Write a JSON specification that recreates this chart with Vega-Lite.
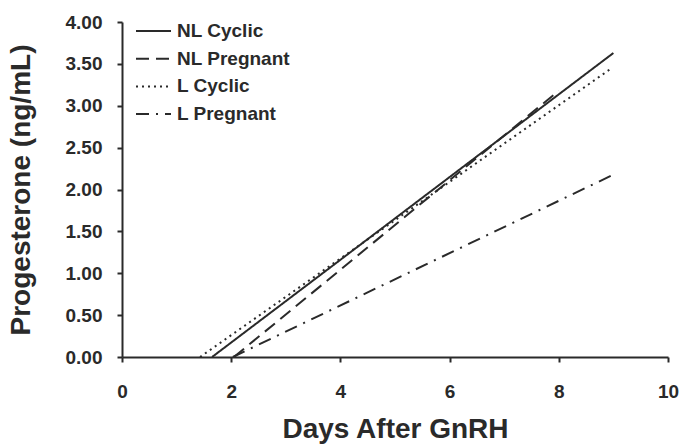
{
  "$schema": "https://vega.github.io/schema/vega-lite/v6.json",
  "width": 546,
  "height": 335,
  "autosize": {"type": "none"},
  "padding": {"left": 122, "top": 22, "right": 15, "bottom": 87},
  "background": "white",
  "config": {
    "view": {"stroke": null},
    "font": "Liberation Sans",
    "axis": {"grid": false, "domainColor": "#2a2a2a", "tickColor": "#2a2a2a", "domainWidth": 2, "tickWidth": 2, "labelColor": "#2a2a2a", "titleColor": "#2a2a2a", "labelFont": "Liberation Sans", "titleFont": "Liberation Sans", "labelFontWeight": "bold", "titleFontWeight": "bold"}
  },
  "data": {
    "values": [
      {"series": "NL Cyclic", "day": 1.65, "p4": 0},
      {"series": "NL Cyclic", "day": 9.0, "p4": 3.63},
      {"series": "NL Pregnant", "day": 2.05, "p4": 0},
      {"series": "NL Pregnant", "day": 8.0, "p4": 3.18},
      {"series": "L Cyclic", "day": 1.43, "p4": 0},
      {"series": "L Cyclic", "day": 8.97, "p4": 3.45},
      {"series": "L Pregnant", "day": 2.03, "p4": 0},
      {"series": "L Pregnant", "day": 8.96, "p4": 2.165}
    ]
  },
  "mark": {"type": "line", "color": "#2a2a2a", "strokeWidth": 2},
  "encoding": {
    "x": {"field": "day", "type": "quantitative", "scale": {"domain": [0, 10], "nice": false, "zero": true},
      "axis": {"values": [0, 2, 4, 6, 8, 10], "title": "Days After GnRH", "titleFontSize": 28, "titlePadding": 14, "labelFontSize": 19, "labelPadding": 20, "tickSize": 5, "labelFlush": false}},
    "y": {"field": "p4", "type": "quantitative", "scale": {"domain": [0, 4], "nice": false},
      "axis": {"values": [0, 0.5, 1, 1.5, 2, 2.5, 3, 3.5, 4], "format": ".2f", "title": "Progesterone (ng/mL)", "titleFontSize": 28, "titlePadding": 30, "labelFontSize": 19, "labelPadding": 15, "tickSize": 5}},
    "strokeDash": {"field": "series", "type": "nominal",
      "scale": {"domain": ["NL Cyclic", "NL Pregnant", "L Cyclic", "L Pregnant"], "range": [[1, 0], [13, 7], [2, 4], [13, 7, 2, 7]]},
      "legend": {"title": null, "orient": "none", "legendX": 20.5, "legendY": -2, "symbolType": "M-1.75,0H1.75", "symbolSize": 400, "symbolStrokeColor": "#2a2a2a", "symbolStrokeWidth": 2, "labelFontSize": 19, "labelFontWeight": "bold", "labelColor": "#2a2a2a", "rowPadding": 6.7, "labelOffset": 12.5}}
  }
}
